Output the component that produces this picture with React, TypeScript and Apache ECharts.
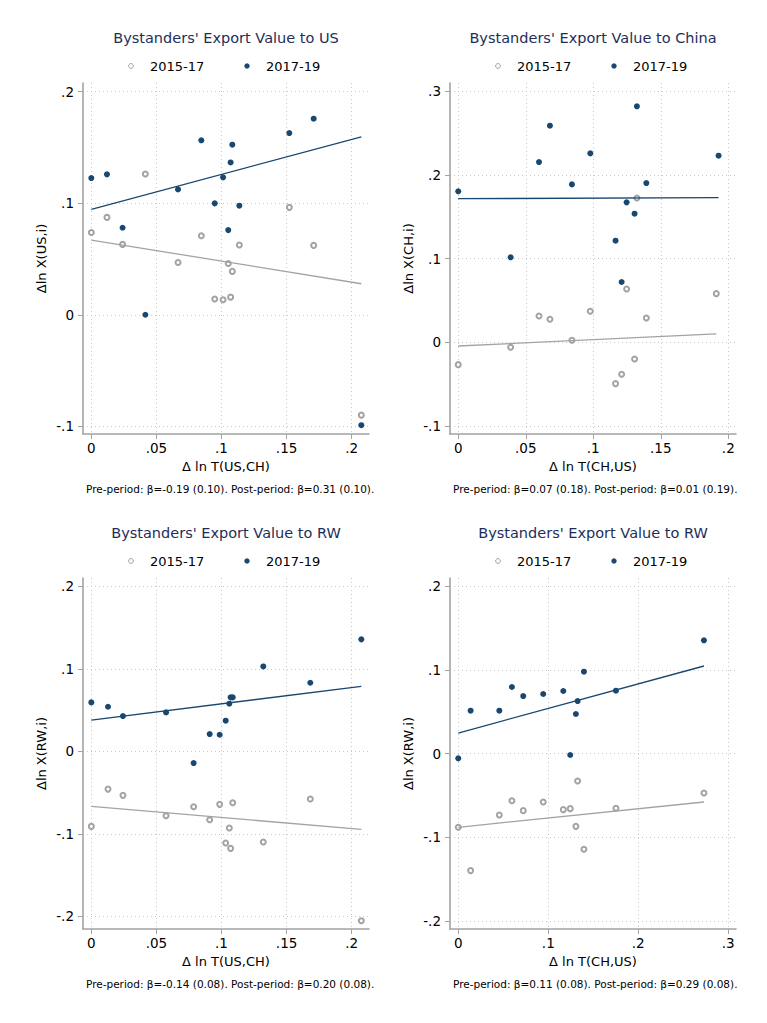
import { useEffect, useRef } from 'react';
import * as echarts from 'echarts';

// Panel 1: exports to US vs Δ ln T(US,CH)
const usX = [0, 0.012, 0.024, 0.0415, 0.0666, 0.0845, 0.0948, 0.1012, 0.1052, 0.107, 0.1083, 0.1137, 0.1521, 0.1708, 0.2074];
const usPre = [0.0738, 0.0873, 0.0631, 0.1262, 0.0469, 0.0709, 0.0141, 0.0135, 0.046, 0.0158, 0.0389, 0.0625, 0.0963, 0.0622, -0.09];
const usPost = [0.1226, 0.1259, 0.078, 0.0, 0.1124, 0.1564, 0.0999, 0.1232, 0.0759, 0.1366, 0.1525, 0.0978, 0.1629, 0.1758, -0.099];
const usPreFit = [[0, 0.067], [0.2074, 0.0278]];
const usPostFit = [[0, 0.0945], [0.2074, 0.1596]];

// Panel 2: exports to China vs Δ ln T(CH,US)
const chPreX = [0, 0.0388, 0.0598, 0.0679, 0.0842, 0.0978, 0.1165, 0.121, 0.1247, 0.1306, 0.1323, 0.1393, 0.1911];
const chPostX = [0, 0.0388, 0.0598, 0.0679, 0.0842, 0.0978, 0.1165, 0.121, 0.1247, 0.1306, 0.1323, 0.1393, 0.1928];
const chPre = [-0.0267, -0.006, 0.0315, 0.0275, 0.0024, 0.0371, -0.0494, -0.0382, 0.0637, -0.0199, 0.1725, 0.0291, 0.0582];
const chPost = [0.1805, 0.1016, 0.2155, 0.259, 0.1888, 0.2259, 0.1215, 0.0721, 0.1673, 0.1538, 0.2821, 0.1904, 0.2231];
const chPreFit = [[0, -0.0044], [0.1911, 0.01]];
const chPostFit = [[0, 0.1717], [0.1928, 0.1729]];

// Panel 3: exports to RW vs Δ ln T(US,CH)
const rwUsX = [0, 0.0128, 0.0243, 0.0574, 0.0786, 0.0909, 0.0986, 0.1032, 0.106, 0.107, 0.1086, 0.1321, 0.1682, 0.2074];
const rwUsPre = [-0.0909, -0.0457, -0.0533, -0.078, -0.0671, -0.0828, -0.0642, -0.1111, -0.0929, -0.1176, -0.0622, -0.1099, -0.0578, -0.2053];
const rwUsPost = [0.0594, 0.0541, 0.0428, 0.0473, -0.0141, 0.021, 0.0202, 0.0372, 0.0578, 0.0655, 0.0655, 0.103, 0.0832, 0.1358];
const rwUsPreFit = [[0, -0.0667], [0.2074, -0.0945]];
const rwUsPostFit = [[0, 0.038], [0.2074, 0.0788]];

// Panel 4: exports to RW vs Δ ln T(CH,US)
const rwChX = [0, 0.0137, 0.0456, 0.0596, 0.0722, 0.0944, 0.1167, 0.1244, 0.1307, 0.1326, 0.1396, 0.1752, 0.273];
const rwChPre = [-0.088, -0.1398, -0.0733, -0.0562, -0.0681, -0.0578, -0.0669, -0.0657, -0.0869, -0.0327, -0.1143, -0.0653, -0.047];
const rwChPost = [-0.0056, 0.0514, 0.0514, 0.0797, 0.0689, 0.0713, 0.0749, -0.0016, 0.0474, 0.0629, 0.098, 0.0753, 0.1355];
const rwChPreFit = [[0, -0.088], [0.273, -0.0578]];
const rwChPostFit = [[0, 0.0247], [0.273, 0.1048]];

const periods = ['2015-17', '2017-19'];
const titles = [
    "Bystanders' Export Value to US",
    "Bystanders' Export Value to China",
    "Bystanders' Export Value to RW",
    "Bystanders' Export Value to RW",
];
const xNames = ['Δ ln T(US,CH)', 'Δ ln T(CH,US)', 'Δ ln T(US,CH)', 'Δ ln T(CH,US)'];
const yNames = ['Δln X(US,i)', 'Δln X(CH,i)', 'Δln X(RW,i)', 'Δln X(RW,i)'];
const notes = [
    'Pre-period: β=-0.19 (0.10). Post-period: β=0.31 (0.10).',
    'Pre-period: β=0.07 (0.18). Post-period: β=0.01 (0.19).',
    'Pre-period: β=-0.14 (0.08). Post-period: β=0.20 (0.08).',
    'Pre-period: β=0.11 (0.08). Post-period: β=0.29 (0.08).',
];
const xTicks = [
    [0, 0.05, 0.1, 0.15, 0.2],
    [0, 0.05, 0.1, 0.15, 0.2],
    [0, 0.05, 0.1, 0.15, 0.2],
    [0, 0.1, 0.2, 0.3],
];
const yTicks = [
    [-0.1, 0, 0.1, 0.2],
    [-0.1, 0, 0.1, 0.2, 0.3],
    [-0.2, -0.1, 0, 0.1, 0.2],
    [-0.2, -0.1, 0, 0.1, 0.2],
];

const GRAY = '#a3a3a3';
const NAVY = '#1a476f';
const TITLE = '#1e2e5a';
const FONT = "'DejaVu Sans', sans-serif";

const zip = (xs: number[], ys: number[]) => xs.map((x, i) => [x, ys[i]]);

// Stata style tick labels: .1, -.1, 0
const fmt = (v: number) => {
    const r = Math.round(v * 1000) / 1000;
    if (r === 0) return '0';
    return String(r).replace(/^(-?)0\./, '$1.');
};

const App = () => {
    const chartRef = useRef<HTMLDivElement>(null);

    useEffect(() => {
        if (!chartRef.current) return;
        const chart = echarts.init(chartRef.current, null, { renderer: 'svg' });

        const panels = [
            { pre: zip(usX, usPre), post: zip(usX, usPost), preFit: usPreFit, postFit: usPostFit },
            { pre: zip(chPreX, chPre), post: zip(chPostX, chPost), preFit: chPreFit, postFit: chPostFit },
            { pre: zip(rwUsX, rwUsPre), post: zip(rwUsX, rwUsPost), preFit: rwUsPreFit, postFit: rwUsPostFit },
            { pre: zip(rwChX, rwChPre), post: zip(rwChX, rwChPost), preFit: rwChPreFit, postFit: rwChPostFit },
        ];

        // layout of each panel (pixels) and axis extents incl. Stata's plot margins
        const layout = [
            { left: 83, top: 83, xr: [-0.0064, 0.2133], yr: [-0.1069, 0.2078], cx: 226, leg: [131, 247], ly: 66, ny: 489, nx: 86 },
            { left: 450, top: 83, xr: [-0.0061, 0.2057], yr: [-0.1096, 0.31], cx: 593, leg: [498, 614], ly: 66, ny: 489, nx: 453 },
            { left: 83, top: 578, xr: [-0.0064, 0.2133], yr: [-0.2153, 0.2102], cx: 226, leg: [131, 247], ly: 561, ny: 984, nx: 86 },
            { left: 450, top: 578, xr: [-0.0092, 0.3086], yr: [-0.2096, 0.21], cx: 593, leg: [498, 614], ly: 561, ny: 984, nx: 453 },
        ];

        const axisCommon = {
            axisLine: { onZero: false, lineStyle: { color: GRAY, width: 1.6 } },
            axisTick: { show: true, length: 5, lineStyle: { color: GRAY, width: 1 } },
            splitLine: { show: true, lineStyle: { color: '#c8c8c8', width: 1, type: [1, 3] } },
        };

        const graphics: any[] = [];
        layout.forEach((l, i) => {
            graphics.push(
                { type: 'circle', shape: { cx: l.leg[0], cy: l.ly, r: 2.4 }, style: { fill: '#fff', stroke: GRAY, lineWidth: 1 } },
                { type: 'text', x: l.leg[0] + 19, y: l.ly, style: { text: periods[0], fontSize: 13, fontFamily: FONT, fill: '#000', verticalAlign: 'middle' } },
                { type: 'circle', shape: { cx: l.leg[1], cy: l.ly, r: 2.7 }, style: { fill: NAVY } },
                { type: 'text', x: l.leg[1] + 19, y: l.ly, style: { text: periods[1], fontSize: 13, fontFamily: FONT, fill: '#000', verticalAlign: 'middle' } },
                { type: 'text', x: l.nx, y: l.ny, style: { text: notes[i], fontSize: 10.5, fontFamily: FONT, fill: '#000', verticalAlign: 'middle' } },
            );
        });

        chart.setOption({
            animation: false,
            backgroundColor: '#fff',
            title: layout.map((l, i) => ({
                text: titles[i],
                left: l.cx,
                top: l.top - 53,
                padding: 0,
                textAlign: 'center',
                textStyle: { fontFamily: FONT, fontSize: 14.5, fontWeight: 'normal', color: TITLE },
            })),
            grid: layout.map(l => ({ left: l.left, top: l.top, width: 286, height: 351 })),
            xAxis: layout.map((l, i) => ({
                type: 'value',
                gridIndex: i,
                min: l.xr[0],
                max: l.xr[1],
                name: xNames[i],
                nameLocation: 'middle',
                nameGap: 26,
                nameTextStyle: { fontFamily: FONT, fontSize: 13, color: '#000' },
                ...axisCommon,
                axisTick: { ...axisCommon.axisTick, customValues: xTicks[i] },
                axisLabel: { customValues: xTicks[i], formatter: fmt, margin: 7, fontFamily: FONT, fontSize: 13.5, color: '#000' },
            })),
            yAxis: layout.map((l, i) => ({
                type: 'value',
                gridIndex: i,
                min: l.yr[0],
                max: l.yr[1],
                name: yNames[i],
                nameLocation: 'middle',
                nameGap: 35,
                nameRotate: 90,
                nameTextStyle: { fontFamily: FONT, fontSize: 13, color: '#000' },
                ...axisCommon,
                axisTick: { ...axisCommon.axisTick, customValues: yTicks[i] },
                axisLabel: { customValues: yTicks[i], formatter: fmt, margin: 9, fontFamily: FONT, fontSize: 13.5, color: '#000' },
            })),
            series: panels.flatMap((p, i) => [
                {
                    type: 'line', name: periods[0] + ' fit', xAxisIndex: i, yAxisIndex: i,
                    data: p.preFit, showSymbol: false, lineStyle: { color: GRAY, width: 1.3 }, silent: true,
                },
                {
                    type: 'line', name: periods[1] + ' fit', xAxisIndex: i, yAxisIndex: i,
                    data: p.postFit, showSymbol: false, lineStyle: { color: NAVY, width: 1.3 }, silent: true,
                },
                {
                    type: 'scatter', name: periods[0], xAxisIndex: i, yAxisIndex: i,
                    data: p.pre, symbol: 'emptyCircle', symbolSize: 5,
                    itemStyle: { color: GRAY, borderWidth: 1, opacity: 1 },
                },
                {
                    type: 'scatter', name: periods[1], xAxisIndex: i, yAxisIndex: i,
                    data: p.post, symbol: 'circle', symbolSize: 6,
                    itemStyle: { color: NAVY, opacity: 1 },
                },
            ]),
            graphic: graphics,
        });

        return () => {
            chart.dispose();
        };
    }, []);

    return (
        <div
            ref={chartRef}
            style={{ position: 'absolute', left: 0, top: 0, width: '767px', height: '1023px' }}
        />
    );
};

export default App;
